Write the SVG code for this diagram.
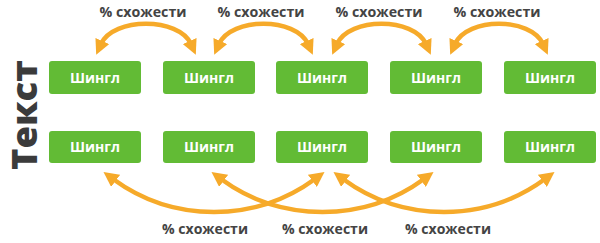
<svg xmlns="http://www.w3.org/2000/svg" width="600" height="243" viewBox="0 0 600 243">
<style>
.box{fill:#62bb35}
.st{font-family:"Open Sans","Liberation Sans",sans-serif;font-weight:bold;font-size:14px;fill:#fff;text-anchor:middle}
.lbl{font-family:"Open Sans","Liberation Sans",sans-serif;font-weight:bold;font-size:14px;fill:#444;text-anchor:middle}
.arc{fill:none;stroke:#f6aa2a;stroke-width:4.5}
.title{font-family:"Open Sans","Liberation Sans",sans-serif;font-weight:800;font-size:35px;fill:#3b3b3b;text-anchor:middle}
</style>
<defs>
<marker id="ah" viewBox="0 0 14 14" markerWidth="15" markerHeight="15" markerUnits="userSpaceOnUse" refX="3" refY="7" orient="auto-start-reverse">
<path d="M0,0 L14,7 L0,14 z" fill="#f6aa2a"/>
</marker>
</defs>
<rect width="600" height="243" fill="#fff"/>
<g id="title">
<text class="title" x="37" y="115" transform="rotate(-90 37 115)" textLength="110" lengthAdjust="spacingAndGlyphs">Текст</text>
</g>
<g id="top-row">
<g id="t1"><rect class="box" x="49" y="61" width="92" height="33" rx="3"/><text class="st" x="95" y="83" textLength="50" lengthAdjust="spacingAndGlyphs">Шингл</text></g>
<g id="t2"><rect class="box" x="163" y="61" width="92" height="33" rx="3"/><text class="st" x="209" y="83" textLength="50" lengthAdjust="spacingAndGlyphs">Шингл</text></g>
<g id="t3"><rect class="box" x="276" y="61" width="92" height="33" rx="3"/><text class="st" x="322" y="83" textLength="50" lengthAdjust="spacingAndGlyphs">Шингл</text></g>
<g id="t4"><rect class="box" x="390" y="61" width="92" height="33" rx="3"/><text class="st" x="436" y="83" textLength="50" lengthAdjust="spacingAndGlyphs">Шингл</text></g>
<g id="t5"><rect class="box" x="504" y="61" width="92" height="33" rx="3"/><text class="st" x="550" y="83" textLength="50" lengthAdjust="spacingAndGlyphs">Шингл</text></g>
</g>
<g id="bottom-row">
<g id="b1"><rect class="box" x="49" y="131" width="92" height="32" rx="3"/><text class="st" x="95" y="152" textLength="50" lengthAdjust="spacingAndGlyphs">Шингл</text></g>
<g id="b2"><rect class="box" x="163" y="131" width="92" height="32" rx="3"/><text class="st" x="209" y="152" textLength="50" lengthAdjust="spacingAndGlyphs">Шингл</text></g>
<g id="b3"><rect class="box" x="276" y="131" width="92" height="32" rx="3"/><text class="st" x="322" y="152" textLength="50" lengthAdjust="spacingAndGlyphs">Шингл</text></g>
<g id="b4"><rect class="box" x="390" y="131" width="92" height="32" rx="3"/><text class="st" x="436" y="152" textLength="50" lengthAdjust="spacingAndGlyphs">Шингл</text></g>
<g id="b5"><rect class="box" x="504" y="131" width="92" height="32" rx="3"/><text class="st" x="550" y="152" textLength="50" lengthAdjust="spacingAndGlyphs">Шингл</text></g>
</g>
<g id="connectors">
<path class="arc" marker-start="url(#ah)" marker-end="url(#ah)" d="M101,44 C113,17 179,17 191,44"/>
<path class="arc" marker-start="url(#ah)" marker-end="url(#ah)" d="M219,44 C231,17 296,17 308,44"/>
<path class="arc" marker-start="url(#ah)" marker-end="url(#ah)" d="M337,44 C349,17 414,17 426,44"/>
<path class="arc" marker-start="url(#ah)" marker-end="url(#ah)" d="M455,44 C467,17 531,17 543,44"/>
<path class="arc" marker-start="url(#ah)" marker-end="url(#ah)" d="M113,179 C173,223 255,223 315,179"/>
<path class="arc" marker-start="url(#ah)" marker-end="url(#ah)" d="M221,179 C281,223 364,223 424,179"/>
<path class="arc" marker-start="url(#ah)" marker-end="url(#ah)" d="M343,179 C403,223 485,223 545,179"/>
</g>
<g id="labels">
<text class="lbl" x="143" y="17" textLength="87" lengthAdjust="spacingAndGlyphs">% схожести</text>
<text class="lbl" x="261" y="17" textLength="87" lengthAdjust="spacingAndGlyphs">% схожести</text>
<text class="lbl" x="379" y="17" textLength="87" lengthAdjust="spacingAndGlyphs">% схожести</text>
<text class="lbl" x="497" y="17" textLength="87" lengthAdjust="spacingAndGlyphs">% схожести</text>
<text class="lbl" x="205" y="234" textLength="86" lengthAdjust="spacingAndGlyphs">% схожести</text>
<text class="lbl" x="325" y="234" textLength="86" lengthAdjust="spacingAndGlyphs">% схожести</text>
<text class="lbl" x="448" y="234" textLength="86" lengthAdjust="spacingAndGlyphs">% схожести</text>
</g>
</svg>
